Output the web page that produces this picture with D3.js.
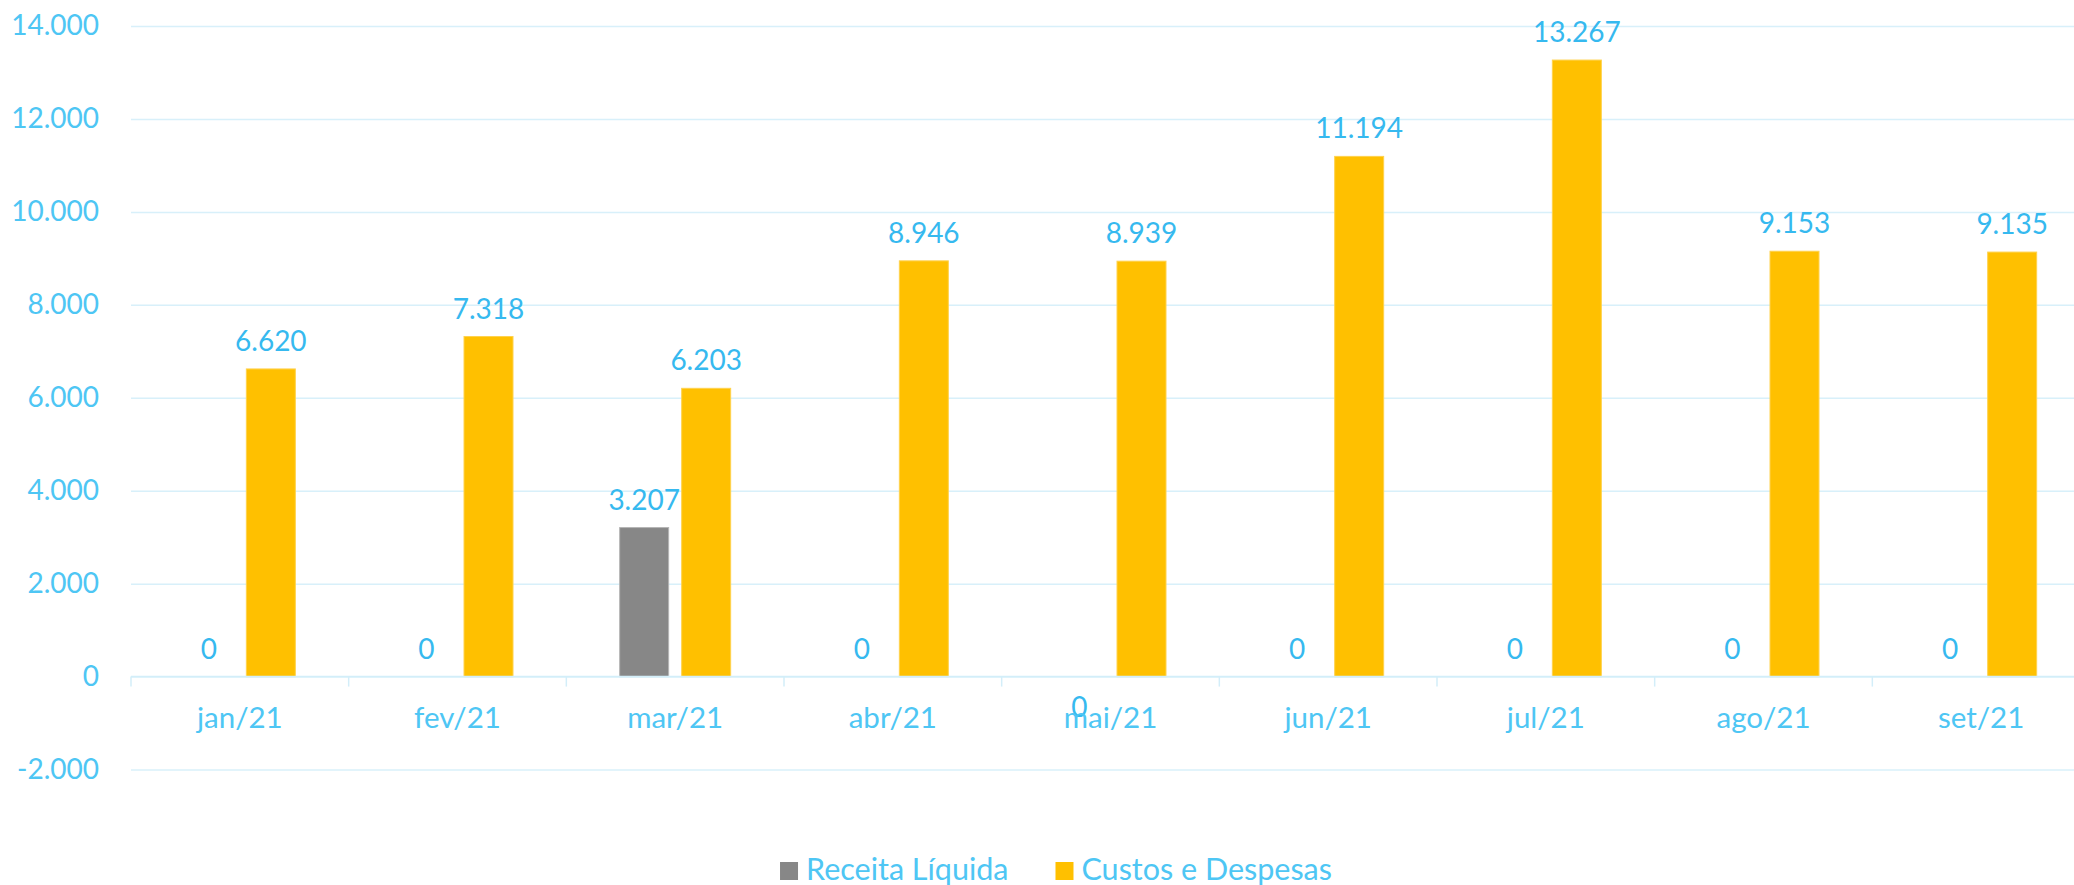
<!DOCTYPE html>
<html>
<head>
<meta charset="utf-8">
<script src="https://cdn.jsdelivr.net/npm/d3@7"></script>
<style>
  body { margin: 0; background: #fff; }
  svg { display: block; font-family: Lato, "Open Sans", sans-serif; }
</style>
</head>
<body>
<div id="chart"></div>
<script>
// Data
const months = ['jan/21', 'fev/21', 'mar/21', 'abr/21', 'mai/21', 'jun/21', 'jul/21', 'ago/21', 'set/21'];
const seriesNames = ['Receita Líquida', 'Custos e Despesas'];
const receita = [0, 0, 3207, 0, -0.3, 0, 0, 0, 0];
const custos = [6620, 7318, 6203, 8946, 8939, 11194, 13267, 9153, 9135];
const yTicks = [-2000, 0, 2000, 4000, 6000, 8000, 10000, 12000, 14000];

const colors = ['#878787', '#FFC000'];
const strokes = ['#b5b5b5', '#ffd24d'];
const axisText = '#4ec6f4';
const labelText = '#36b9ef';
const gridColor = '#d8f0fa';

// Dimensions
const W = 2074, H = 885;
const plot = { left: 131, right: 2090, top: 26, bottom: 769.5 };

const loc = d3.formatLocale({ decimal: ',', thousands: '.', grouping: [3], currency: ['R$', ''], minus: '-' });
const fmt = v => Math.round(v) === 0 ? '0' : loc.format(',d')(Math.round(v));

// Scales
const x0 = d3.scaleBand()
  .domain(months)
  .range([plot.left, plot.right])
  .paddingInner(0.49)
  .paddingOuter(0.245);
const x1 = d3.scaleBand()
  .domain(seriesNames)
  .range([0, x0.bandwidth()])
  .paddingInner(0.21);
const y = d3.scaleLinear()
  .domain([-2000, 14000])
  .range([plot.bottom, plot.top]);

const svg = d3.select('#chart')
  .append('svg')
  .attr('width', W)
  .attr('height', H);

// Gridlines + y labels
const yAxis = svg.append('g')
  .attr('transform', `translate(${plot.left},0)`)
  .call(d3.axisLeft(y).tickValues(yTicks).tickSize(-(plot.right - plot.left)).tickPadding(32).tickFormat(loc.format(',d')));
yAxis.select('.domain').remove();
yAxis.selectAll('.tick line').attr('stroke', gridColor).attr('stroke-width', 1.5);
yAxis.selectAll('.tick text')
  .attr('fill', axisText)
  .attr('font-size', 28)
  .attr('font-family', 'Lato, "Open Sans", sans-serif');

// Bars
const rows = months.map((m, i) => ({ month: m, values: [receita[i], custos[i]] }));
const groups = svg.append('g').selectAll('g')
  .data(rows)
  .enter()
  .append('g')
  .attr('transform', d => `translate(${x0(d.month)},0)`);

groups.selectAll('rect')
  .data(d => d.values.map((v, k) => ({ key: seriesNames[k], k, v })))
  .enter()
  .append('rect')
  .attr('x', d => x1(d.key))
  .attr('y', d => Math.min(y(d.v), y(0)))
  .attr('width', x1.bandwidth())
  .attr('height', d => Math.abs(y(d.v) - y(0)))
  .attr('fill', d => colors[d.k])
  .attr('stroke', d => Math.abs(y(d.v) - y(0)) > 1 ? strokes[d.k] : 'none')
  .attr('stroke-width', 1);

// X axis line + ticks at category boundaries
svg.append('line')
  .attr('x1', plot.left).attr('x2', plot.right)
  .attr('y1', y(0)).attr('y2', y(0))
  .attr('stroke', '#d3eef9').attr('stroke-width', 1.5);
const bounds = months.map(m => x0(m) - x0.step() * x0.paddingOuter()).concat([plot.right]);
svg.append('g').selectAll('line')
  .data(bounds)
  .enter()
  .append('line')
  .attr('x1', d => d).attr('x2', d => d)
  .attr('y1', y(0)).attr('y2', y(0) + 10)
  .attr('stroke', '#d3eef9').attr('stroke-width', 1.5);

svg.append('g').selectAll('text')
  .data(months)
  .enter()
  .append('text')
  .attr('x', d => x0(d) + x0.bandwidth() / 2)
  .attr('y', y(0) + 51)
  .attr('text-anchor', 'middle')
  .attr('fill', axisText)
  .attr('font-size', 29.5)
  .text(d => d);

// Data labels (the mai/21 zero sits under the axis, as in the original)
groups.selectAll('text')
  .data(d => d.values.map((v, k) => ({ key: seriesNames[k], k, v })))
  .enter()
  .append('text')
  .attr('x', d => x1(d.key) + x1.bandwidth() / 2)
  .attr('y', d => d.v < 0 ? y(d.v) + 40 : y(d.v) - 18)
  .attr('text-anchor', 'middle')
  .attr('fill', labelText)
  .attr('font-size', 28)
  .text(d => fmt(d.v));

// Legend
const legend = svg.append('g');
const items = legend.selectAll('g')
  .data(seriesNames)
  .enter()
  .append('g');
items.append('rect')
  .attr('width', 18).attr('height', 18)
  .attr('y', 862)
  .attr('fill', (d, i) => colors[i]);
items.append('text')
  .attr('x', 26)
  .attr('y', 880)
  .attr('fill', axisText)
  .attr('font-size', 30.5)
  .text(d => d);
let cx = 0;
items.each(function () {
  d3.select(this).attr('transform', `translate(${cx},0)`);
  cx += 26 + this.querySelector('text').getComputedTextLength() + 47;
});
const legendW = cx - 47;
legend.attr('transform', `translate(${1056 - legendW / 2},0)`);
</script>
</body>
</html>
